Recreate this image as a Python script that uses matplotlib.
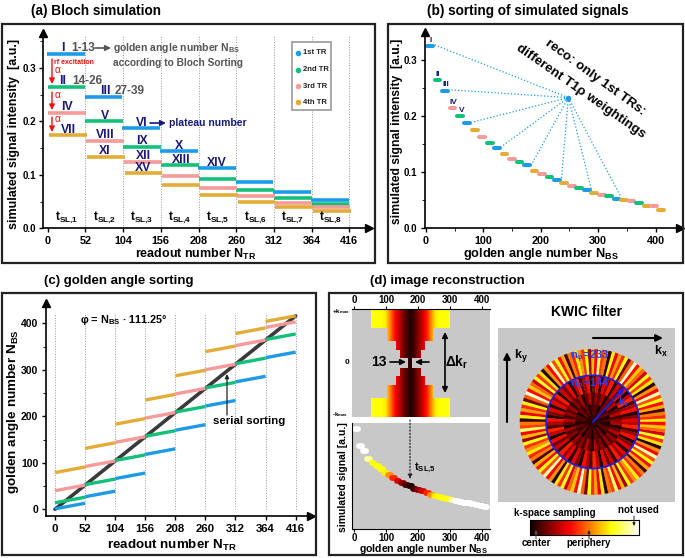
import numpy as np
import matplotlib
matplotlib.use('Agg')
import matplotlib.pyplot as plt
from matplotlib.patches import Rectangle, Wedge, Circle
from matplotlib.colors import ListedColormap

plt.rcParams['font.family'] = ['Liberation Sans', 'DejaVu Sans']
plt.rcParams['font.weight'] = 'bold'
plt.rcParams['mathtext.fontset'] = 'custom'
plt.rcParams['mathtext.bf'] = 'Liberation Sans:bold'
plt.rcParams['mathtext.rm'] = 'Liberation Sans:bold'
plt.rcParams['mathtext.default'] = 'bf'

W, H = 685, 558

# plateau start readouts and signal per TR
plateau_starts = [0, 52, 104, 156, 208, 260, 312, 364]
signal_1st = [0.325, 0.245, 0.187, 0.144, 0.112, 0.087, 0.068, 0.053]
signal_2nd = [0.264, 0.200, 0.152, 0.118, 0.092, 0.072, 0.057, 0.045]
signal_3rd = [0.215, 0.163, 0.124, 0.097, 0.076, 0.060, 0.048, 0.039]
signal_4th = [0.175, 0.133, 0.103, 0.080, 0.063, 0.050, 0.040, 0.033]

# first golden angle number per plateau, panel (c)
nbs_1st = [1, 27, 66, 118, 170, 222, 274, 326]
nbs_2nd = [14, 53, 105, 157, 209, 261, 313, 365]
nbs_3rd = [40, 92, 144, 196, 248, 300, 352, 391]
nbs_4th = [79, 131, 183, 235, 287, 339, 378, 404]
serial_x = [0, 416]
serial_y = [0, 416]

tr_names = ['1st TR', '2nd TR', '3rd TR', '4th TR']
tr_colors = ['#1E9BE8', '#13C07A', '#F79A9A', '#E2AC36']
tr_signals = [signal_1st, signal_2nd, signal_3rd, signal_4th]
tr_nbs = [nbs_1st, nbs_2nd, nbs_3rd, nbs_4th]
tr_shift = [-1, 0, 1, 2]

tick_tr = [0, 52, 104, 156, 208, 260, 312, 364, 416]
tick_bs = [0, 100, 200, 300, 400]
tsl_labels = ['1', '2', '3', '4', '5', '6', '7', '8']

# KWIC filter level of each 13-wide block of spokes (0 = centre, 1 = not used)
filter_levels = [1.0, 1.0, 1.0, 0.9, 0.75, 0.75, 0.75, 0.72, 0.58, 0.42, 0.3, 0.2, 0.1, 0.03, 0.1, 0.2,
                 0.3, 0.42, 0.58, 0.72, 0.75, 0.75, 0.75, 0.88, 1.0, 1.0, 1.0, 1.0, 1.0, 1.0, 1.0, 1.0]
ring_radii = [1, 0.64, 0.4, 0.24, 0.09]
ring_halfblocks = [9, 5, 3, 2, 0]
centre_block = 13
block_size = 13

# colour levels of the wedges in the disc, outer ring to centre, read by eye
ring_wedges = [130, 76, 50, 30]
ring_levels = [
    [0.72, 0.42, 0.55, 0.1, 0.62, 0.38, 0.75, 0.48, 0.92, 0.36, 0.58, 0.04, 0.7, 0.44, 0.78, 0.3, 0.52,
     0.66, 0.38, 0.95, 0.5, 0.16, 0.75, 0.42, 0.6, 0.34, 0.72, 0.06, 0.54, 0.46, 0.85, 0.36, 0.64, 0.22,
     0.75, 0.44, 0.58],
    [0.33, 0.18, 0.04, 0.38, 0.24, 0.1, 0.42, 0.28, 0.02, 0.36, 0.15, 0.3, 0.07, 0.4, 0.22, 0.34, 0.05],
    [0.2, 0.08, 0.26, 0.14, 0.03, 0.24, 0.11, 0.18, 0.05, 0.22, 0.12],
    [0.1, 0.03, 0.14, 0.07, 0.16, 0.02, 0.12],
]
centre_level = 0.06

fig = plt.figure(figsize=(W / 100, H / 100), dpi=100)
fig.patch.set_facecolor('white')


def px_axes(x0, y0, x1, y1, **kw):
    return fig.add_axes([x0 / W, 1 - y1 / H, (x1 - x0) / W, (y1 - y0) / H], **kw)


def arrow_axes(ax, fs=7.8):
    ax.spines['top'].set_visible(False)
    ax.spines['right'].set_visible(False)
    ax.spines['left'].set_linewidth(1.2)
    ax.spines['bottom'].set_linewidth(1.2)
    ax.patch.set_alpha(0)
    ax.plot(1, 0, '>k', ms=6, transform=ax.transAxes, clip_on=False)
    ax.plot(0, 1, '^k', ms=6, transform=ax.transAxes, clip_on=False)
    ax.tick_params(width=1, length=3, labelsize=fs, pad=2.5)


# overlay in pixel coordinates for frames and annotations
ov = fig.add_axes([0, 0, 1, 1], zorder=10)
ov.set_xlim(0, W)
ov.set_ylim(H, 0)
ov.axis('off')


def txt(x, y, s, size=8, color='black', ha='left', **kw):
    ov.text(x, y, s, fontsize=size, color=color, ha=ha, va='center', **kw)


def arrow(x0, y0, x1, y1, color='black', lw=1.2, style='-|>', ls='-', scale=8):
    ov.annotate('', xy=(x1, y1), xytext=(x0, y0),
                arrowprops=dict(arrowstyle=style, color=color, lw=lw, ls=ls,
                                mutation_scale=scale, shrinkA=0, shrinkB=0))


for x0, y0, x1, y1 in [(2, 24, 375, 263), (388, 24, 683, 263), (2, 293, 316, 555), (329, 293, 683, 555)]:
    ov.add_patch(Rectangle((x0, y0), x1 - x0, y1 - y0, fill=False, ec='#222222', lw=1.6))

navy = '#1a1a7a'
gray = '#555555'
red = '#f01010'
blue = '#2a3ff0'

# (a) Bloch simulation
ax = px_axes(43.5, 33, 369, 228.3)
arrow_axes(ax)
ax.set_xlim(-5.8, 443)
ax.set_ylim(0, 0.365)
ax.vlines(tick_tr[1:], 0, 0.36, color='#999999', ls=':', lw=0.7)
for name, color, vals, shift in zip(tr_names, tr_colors, tr_signals, tr_shift):
    for start, v in zip(plateau_starts, vals):
        ax.plot([start + shift, start + 52 + shift], [v, v], color=color, lw=2.6, solid_capstyle='butt')
ax.set_xticks(tick_tr)
ax.set_yticks([0, 0.1, 0.2, 0.3])
ax.set_yticks([0.05, 0.15, 0.25, 0.35], minor=True)
ax.tick_params(which='minor', length=2)
ax.set_yticklabels(['0.0', '0.1', '0.2', '0.3'], fontsize=7)
for start, n in zip(plateau_starts, tsl_labels):
    ax.text(start + 26, 0.019, r't$_{SL{,}' + n + '}$', fontsize=8.5, ha='center', va='center')

txt(31, 11, '(a) Bloch simulation', 9.8)
txt(14, 134, 'simulated signal intensity  [a.u.]', 9, ha='center', rotation=90)
txt(196, 254, r'readout number N$_{TR}$', 9, ha='center')

for x, y, s in [(63, 48, 'I'), (63, 81, 'II'), (105, 91, 'III'), (67, 107, 'IV'), (104.5, 116, 'V'), (142, 123, 'VI'),
                (68, 130, 'VII'), (105, 135, 'VIII'), (142, 141, 'IX'), (105, 151, 'XI'), (143, 156, 'XII'),
                (179, 146, 'X'), (181, 160, 'XIII'), (217, 163, 'XIV'), (143, 168, 'XV')]:
    txt(x, y, s, 8.8, navy, ha='center')
txt(71, 48, '1-13', 8.5, gray)
txt(72, 81, '14-26', 8.5, gray)
txt(115, 91, '27-39', 8.5, gray)
arrow(95, 48, 111, 48, gray)
txt(113, 48, r'golden angle number N$_{BS}$', 7.5, gray)
txt(113, 62.5, 'according to Bloch Sorting', 7.3, gray)
arrow(150, 123, 166, 123, navy)
txt(169, 123, 'plateau number', 7.5, navy)
txt(54, 63, 'rf excitation', 5, red)
for y in [70, 95, 119]:
    txt(55, y, '\u03b1', 7.5, red, fontweight='normal')
arrow(52, 59, 52, 84, red, 1)
arrow(52, 92, 52, 110, red, 1)
arrow(52, 117, 52, 132, red, 1)

ov.add_patch(Rectangle((292, 42), 39, 68, fc='white', ec='#999999', lw=1.2))
for y, name, color in zip([53, 69.5, 86, 102], tr_names, tr_colors):
    ov.plot([298], [y], 'o', color=color, ms=3)
    txt(303, y, name, 5.5, '#222222')

# (b) sorting of simulated signals
ax = px_axes(425, 32, 680, 228.3)
arrow_axes(ax)
ax.set_xlim(-1.7, 442.5)
ax.set_ylim(0, 0.35)
all_signal = np.concatenate(tr_signals)
all_tr = np.repeat(np.arange(4), 8)
order = np.argsort(-all_signal)
sorted_signal = all_signal[order]
sorted_tr = all_tr[order]
for rank, (v, tr) in enumerate(zip(sorted_signal, sorted_tr)):
    ax.plot([rank * block_size + 2, (rank + 1) * block_size - 1], [v, v], color=tr_colors[tr], lw=2.9,
            solid_capstyle='round')
hub_x, hub_y = 248, 0.233
for rank, (v, tr) in enumerate(zip(sorted_signal, sorted_tr)):
    if tr == 0 and rank <= 25:
        ax.plot([hub_x, (rank + 1) * block_size + 2], [hub_y, v + 0.002], color='#1E9BE8', lw=0.9, ls=':')
ax.plot([hub_x], [hub_y], 'o', color='#1E9BE8', ms=3)
ax.set_xticks(tick_bs)
ax.set_xticks([50, 150, 250, 350], minor=True)
ax.set_yticks([0, 0.1, 0.2, 0.3])
ax.set_yticks([0.05, 0.15, 0.25], minor=True)
ax.tick_params(which='minor', length=2)
ax.set_yticklabels(['0.0', '0.1', '0.2', '0.3'], fontsize=7)

txt(528, 11, '(b) sorting of simulated signals', 9.8, ha='center')
txt(397, 131, 'simulated signal intensity  [a.u.]', 8.7, ha='center', rotation=90)
txt(541, 254, r'golden angle number N$_{BS}$', 9.2, ha='center')
for x, y, s in [(431, 40, 'I'), (438, 75, 'II'), (446, 85, 'III'), (453, 102, 'IV'), (462, 111, 'V')]:
    txt(x, y, s, 6, navy, ha='center')
ov.text(595, 78, 'reco: only 1st TRs:', fontsize=9.6, ha='center', va='center', rotation=-36, rotation_mode='anchor')
ov.text(581, 91, 'different T1\u03c1 weightings', fontsize=9.6, ha='center', va='center', rotation=-35, rotation_mode='anchor')

# (c) golden angle sorting
ax = px_axes(46, 303, 311, 516)
arrow_axes(ax, 8.2)
ax.set_xlim(-15.5, 442.5)
ax.set_ylim(-14.4, 443.6)
ax.vlines(tick_tr, 0, 422, color='#999999', ls=':', lw=0.7)
ax.plot(serial_x, serial_y, color='#3a3a3a', lw=2.6, solid_capstyle='round')
for color, starts in zip(tr_colors, tr_nbs):
    for start, n in zip(plateau_starts, starts):
        ax.plot([start, start + 52], [n, n + 12], color=color, lw=2.4, solid_capstyle='butt')
ax.set_xticks(tick_tr)
ax.set_yticks([0, 100, 200, 300, 400])
ax.set_yticks([50, 150, 250, 350], minor=True)
ax.tick_params(which='minor', length=2)
ax.tick_params(axis='y', labelsize=7.5)

txt(44, 281, '(c) golden angle sorting', 9.5)
txt(13, 412, r'golden angle number N$_{BS}$', 9.7, ha='center', rotation=90)
txt(172, 545, r'readout number N$_{TR}$', 9.6, ha='center')
txt(80, 320, '\u03c6 = N$_{BS}$ \u00b7 111.25\u00b0', 7.8)
txt(249, 421, 'serial sorting', 8.2, ha='center')
arrow(227, 415, 227, 374, '#222222', 0.9, scale=6)

# (d) filter map and coloured signal
hot_map = plt.get_cmap('hot')
grey_bg = '#c8c8c8'
levels = np.array(filter_levels)

ax = px_axes(352, 309, 490, 417)
ax.imshow(levels[None, :], cmap=hot_map, vmin=0, vmax=1, aspect='auto', interpolation='bilinear',
          extent=(0, len(levels) * block_size, -1, 1))
# grey mask around the stepped region, run past the axes edge so no seam shows
y_edges = np.array([-r for r in ring_radii] + [0] + ring_radii[::-1])
y_edges = np.unique(np.round(y_edges, 3))
y_mid = (y_edges[:-1] + y_edges[1:]) / 2
x_edges = np.arange(len(levels) + 1.0) * block_size
x_edges[0] = -20
x_edges[-1] = 440
outside = np.ones((len(y_mid), len(levels)))
for i, y in enumerate(y_mid):
    for r, h in zip(ring_radii, ring_halfblocks):
        if abs(y) <= r:
            half = h
    outside[i, centre_block - half:centre_block + half + 1] = np.nan
ax.pcolormesh(x_edges, y_edges, np.ma.masked_invalid(outside), cmap=ListedColormap([grey_bg]))
ax.set_facecolor(grey_bg)
ax.set_xlim(-6, 425)
ax.set_ylim(-1, 1)
ax.xaxis.tick_top()
ax.set_xticks(tick_bs)
ax.set_yticks([])
ax.tick_params(labelsize=7, length=2, pad=1)
for s in ax.spines.values():
    s.set_visible(False)
ax.spines['top'].set_visible(True)

ax = px_axes(352, 423, 490, 529)
ax.set_facecolor(grey_bg)
for rank, v in enumerate(sorted_signal):
    ax.plot([rank * block_size + 3, (rank + 1) * block_size - 1], [v, v], color=hot_map(filter_levels[rank]),
            lw=4.2, solid_capstyle='round')
ax.set_xlim(-6, 425)
ax.set_ylim(-0.049, 0.349)
ax.set_xticks(tick_bs)
ax.set_yticks([])
ax.tick_params(labelsize=7, length=2, pad=1)
for s in ax.spines.values():
    s.set_visible(False)
ax.spines['bottom'].set_visible(True)
ax.spines['left'].set_visible(True)

txt(370, 281, '(d) image reconstruction', 9.5)
txt(341, 312, '+k$_{max}$', 4.5, ha='center')
txt(347, 362, '0', 6, ha='center')
txt(340, 415, '-k$_{max}$', 4.5, ha='center')
txt(379, 362, '13', 10, ha='center')
arrow(390, 362, 406, 362)
arrow(429, 362, 415, 362)
txt(457, 362, '\u0394k$_r$', 10, ha='center')
arrow(445, 362, 445, 332)
arrow(445, 362, 445, 393)
arrow(410, 420, 410, 479, '#222222', 0.9, ls=':', scale=6)
txt(414, 468, r't$_{SL{,}5}$', 8)
txt(343, 477, 'simulated signal [a.u.]', 7.5, ha='center', rotation=90)
txt(423, 549.5, r'golden angle number N$_{BS}$', 7.6, ha='center')

# KWIC filter disc
ax = px_axes(498, 328, 675, 502)
ax.set_facecolor(grey_bg)
ax.set_xlim(-1.30, 1.13)
ax.set_ylim(-1.10, 1.29)
ax.set_aspect('equal')
ax.set_xticks([])
ax.set_yticks([])
for s in ax.spines.values():
    s.set_visible(False)
for r, n_wedge, ring in zip(ring_radii, ring_wedges, ring_levels):
    step = 360 / n_wedge
    for k in range(n_wedge):
        c = hot_map(ring[k % len(ring)])
        ax.add_patch(Wedge((0, 0), r, k * step, (k + 1) * step, fc=c, ec=c, lw=0.1))
ax.add_patch(Circle((0, 0), ring_radii[4], fc=hot_map(centre_level), ec='none'))
ax.add_patch(Circle((0, 0), ring_radii[1], fill=False, ec='#1a22e0', lw=1.3))

txt(587, 312, 'KWIC filter', 10, ha='center')
arrow(593, 338, 663, 338, scale=10, lw=1.5)
txt(661, 351, 'k$_x$', 9, ha='center')
arrow(507, 422, 507, 352, scale=10, lw=1.5)
txt(521, 356, 'k$_y$', 9, ha='center')
txt(590, 357, 'n$_{\u03c6}$=233', 8, blue, ha='center')
txt(590, 385, 'n$_{\u03c6}$=144', 8, blue, ha='center')
arrow(593, 422, 624, 388, '#1a22e0', 1.4)
txt(624, 402, 'k$_r$', 8, blue, ha='center')

# colour bar of the filter
ax = px_axes(530, 520, 639, 535)
ax.imshow(np.linspace(0, 1, 256)[None, :], cmap=hot_map, aspect='auto')
ax.set_xticks([])
ax.set_yticks([])
txt(555, 513, 'k-space sampling', 7, ha='center')
txt(638, 510, 'not used', 7, ha='center')
txt(536, 543, 'center', 7, ha='center')
txt(589, 543, 'periphery', 7, ha='center')
arrow(536, 539, 536, 530, '#555555', 0.7, scale=4)
arrow(589, 539, 589, 530, '#222222', 0.7, scale=4)
arrow(634, 516, 634, 526, '#222222', 0.7, scale=4)

fig.savefig('out.png', dpi=100)
